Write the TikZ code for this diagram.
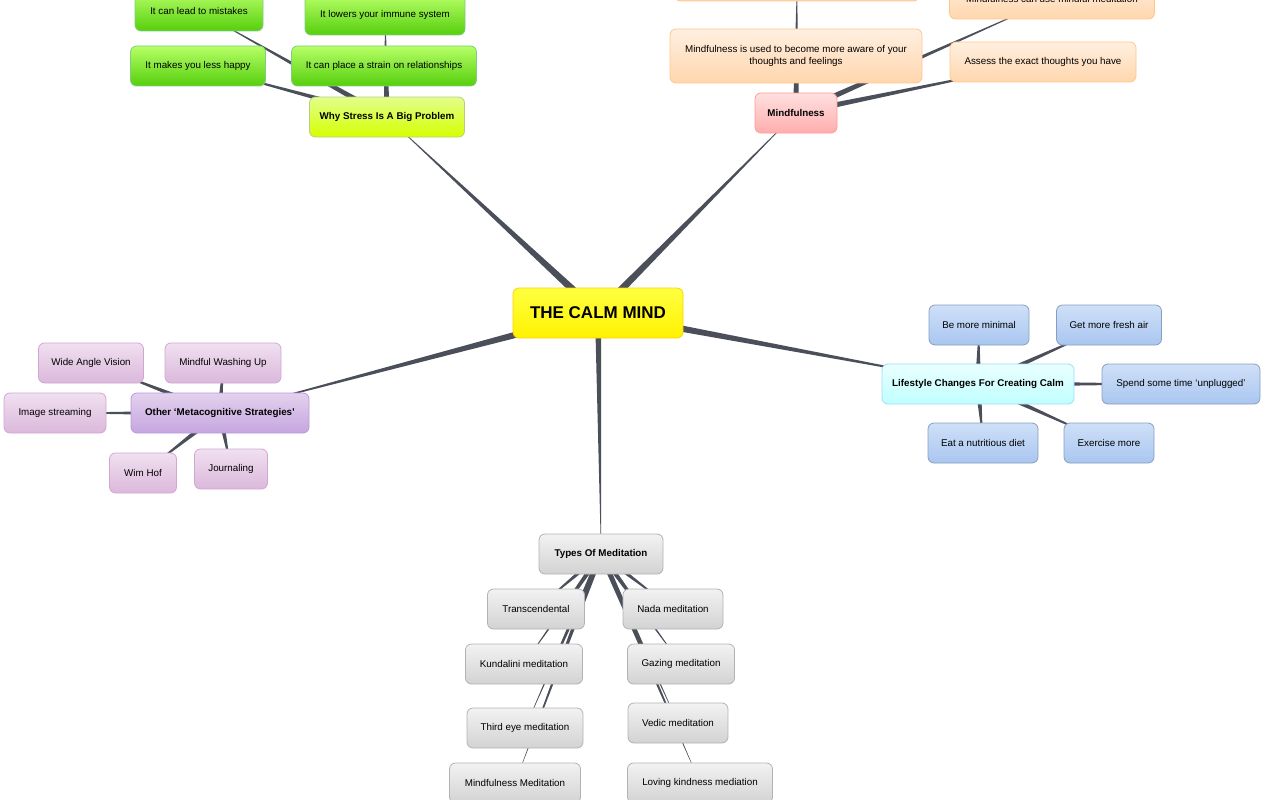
\documentclass[tikz,border=0pt]{standalone}
\usepackage{fontspec}
\setmainfont{Liberation Sans}
\usetikzlibrary{calc,backgrounds}
\definecolor{linkgray}{HTML}{4A4F5A}
\definecolor{bluetop}{HTML}{CFE0F8}
\definecolor{bluebot}{HTML}{A9C6F0}
\tikzset{
  box/.style={draw,rounded corners=6pt,line width=0.8pt,align=center,
    font=\fontsize{9.8}{12}\selectfont,minimum height=40pt,inner sep=2pt},
  green/.style={box,draw=green!60!black!50,top color=green!30!lime!60,bottom color=green!50!lime!80!black!95},
  stress/.style={box,draw=lime!60!black!50,top color=lime!45,bottom color=lime!65!yellow,font=\fontsize{9.8}{12}\selectfont\bfseries},
  orange/.style={box,draw=orange!45,top color=orange!12,bottom color=orange!32},
  pink/.style={box,draw=red!40,top color=red!12,bottom color=red!32,font=\fontsize{9.8}{12}\selectfont\bfseries},
  blue/.style={box,draw=bluebot!80!black,top color=bluetop,bottom color=bluebot},
  cyan/.style={box,draw=cyan!40,top color=cyan!8,bottom color=cyan!25,font=\fontsize{9.8}{12}\selectfont\bfseries},
  purple/.style={box,draw=violet!35,top color=violet!12,bottom color=violet!28},
  strat/.style={box,draw=blue!40!violet!40,top color=blue!20!violet!18,bottom color=blue!30!violet!35,font=\fontsize{9.8}{12}\selectfont\bfseries},
  gray/.style={box,draw=gray!60,top color=gray!10,bottom color=gray!35},
  types/.style={gray,font=\fontsize{9.8}{12}\selectfont\bfseries},
  central/.style={box,draw=yellow!70!orange,top color=yellow!75,bottom color=yellow!90!orange,
    font=\fontsize{17}{20}\selectfont\bfseries,minimum height=50pt},
  linkc/.style={fill=linkgray}
}
\newcommand{\branch}[3]{%
  \fill[linkc] ($(#1)!#3!90:(#2)$) -- ($(#1)!#3!-90:(#2)$) -- (#2.center) -- cycle;}
\begin{document}
\begin{tikzpicture}[x=1pt,y=-1pt]
\useasboundingbox (0,0) rectangle (1280,800);
\begin{scope}
\clip (0,0) rectangle (1280,800);
% centre
\node[central,minimum width=170pt] (calm) at (598,313) {THE CALM MIND};
% stress
\node[stress,minimum width=155pt] (stress) at (387,117) {Why Stress Is A Big Problem};
\node[green,minimum width=128pt] (mist) at (199,11) {It can lead to mistakes};
\node[green,minimum width=160pt] (immune) at (385,15) {It lowers your immune system};
\node[green,minimum width=135pt] (happy) at (198,66) {It makes you less happy};
\node[green,minimum width=185pt] (strain) at (384,66) {It can place a strain on relationships};
% mindfulness
\node[pink,minimum width=82pt] (mind) at (796,113) {Mindfulness};
\node[orange,minimum width=245pt] (mtop) at (797,-19) {};
\node[orange,minimum width=205pt] (mmed) at (1052,-1) {Mindfulness can use mindful meditation};
\node[orange,minimum width=252pt,minimum height=54pt] (aware) at (796,56) {Mindfulness is used to become more aware of your\\thoughts and feelings};
\node[orange,minimum width=186pt] (assess) at (1043,62) {Assess the exact thoughts you have};
% lifestyle
\node[cyan,minimum width=192pt] (life) at (978,384) {Lifestyle Changes For Creating Calm};
\node[blue,minimum width=100pt] (minimal) at (979,325) {Be more minimal};
\node[blue,minimum width=105pt] (air) at (1109,325) {Get more fresh air};
\node[blue,minimum width=158pt] (unplug) at (1181,384) {Spend some time `unplugged'};
\node[blue,minimum width=110pt] (diet) at (983,443) {Eat a nutritious diet};
\node[blue,minimum width=90pt] (exer) at (1109,443) {Exercise more};
% strategies
\node[strat,minimum width=178pt] (strat) at (220,413) {Other `Metacognitive Strategies'};
\node[purple,minimum width=105pt] (wide) at (91,363) {Wide Angle Vision};
\node[purple,minimum width=116pt] (wash) at (223,363) {Mindful Washing Up};
\node[purple,minimum width=102pt] (image) at (55,413) {Image streaming};
\node[purple,minimum width=67pt] (wim) at (143,473) {Wim Hof};
\node[purple,minimum width=73pt] (journal) at (231,469) {Journaling};
% meditation
\node[types,minimum width=124pt] (types) at (601,554) {Types Of Meditation};
\node[gray,minimum width=97pt] (trans) at (536,609) {Transcendental};
\node[gray,minimum width=117pt] (kund) at (524,664) {Kundalini meditation};
\node[gray,minimum width=116pt] (third) at (525,728) {Third eye meditation};
\node[gray,minimum width=131pt] (mmedit) at (515,783) {Mindfulness Meditation};
\node[gray,minimum width=100pt] (nada) at (673,609) {Nada meditation};
\node[gray,minimum width=107pt] (gaze) at (681,664) {Gazing meditation};
\node[gray,minimum width=100pt] (vedic) at (678,723) {Vedic meditation};
\node[gray,minimum width=145pt] (loving) at (700,783) {Loving kindness mediation};
% connectors
\begin{pgfonlayer}{background}
\branch{calm}{stress}{4pt}
\branch{calm}{mind}{4pt}
\branch{calm}{life}{4pt}
\branch{calm}{strat}{4pt}
\branch{calm}{types}{3pt}
\foreach \k in {mist,immune,happy,strain} {\branch{stress}{\k}{3pt}}
\foreach \k in {mtop,mmed,aware,assess} {\branch{mind}{\k}{3pt}}
\foreach \k in {minimal,air,unplug,diet,exer} {\branch{life}{\k}{3pt}}
\foreach \k in {wide,wash,image,wim,journal} {\branch{strat}{\k}{3pt}}
\foreach \k in {trans,kund,third,mmedit,nada,gaze,vedic,loving} {\branch{types}{\k}{2.5pt}}
\end{pgfonlayer}
\end{scope}
\end{tikzpicture}
\end{document}
